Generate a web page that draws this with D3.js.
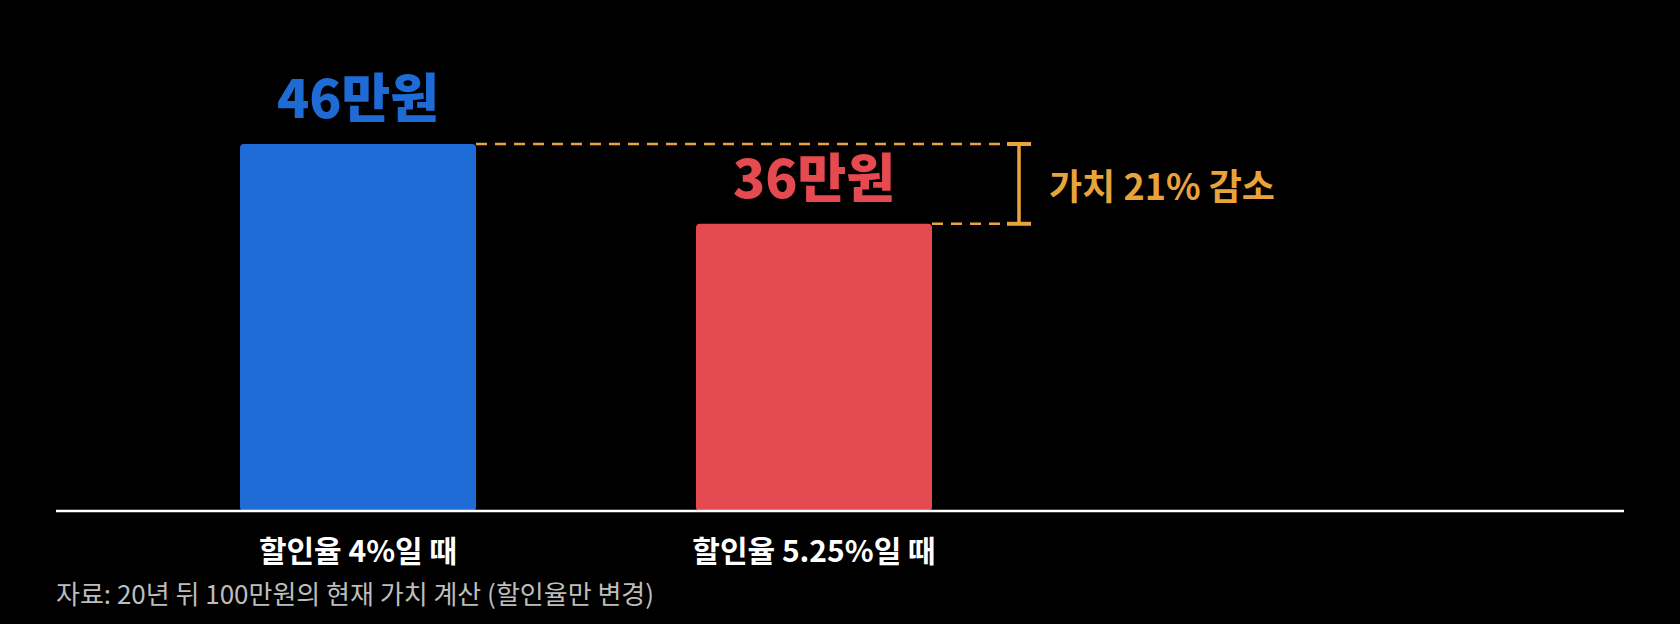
<!DOCTYPE html>
<html>
<head>
<meta charset="utf-8">
<script src="https://cdn.jsdelivr.net/npm/d3@7"></script>
<style>
  html, body { margin: 0; padding: 0; background: #000; }
  svg { display: block; }
  text { font-family: "Noto Sans CJK KR", "Noto Sans", sans-serif; }
</style>
</head>
<body>
<div id="chart"></div>
<script>
//chart data
var categories = ["할인율 4%일 때", "할인율 5.25%일 때"];
var values = [46, 36];
var valueLabels = ["46만원", "36만원"];
var barColors = ["#1f6bd6", "#e54a50"];
var changeLabel = "가치 21% 감소";
var sourceNote = "자료: 20년 뒤 100만원의 현재 가치 계산 (할인율만 변경)";

//svg size and where the plot sits
var svgWidth = 1680;
var svgHeight = 624;
var baseY = 511;
var axisLeft = 56, axisRight = 1624;
var accent = "#e8a33a";

var svg = d3.select("#chart").append("svg")
    .attr("width", svgWidth)
    .attr("height", svgHeight);

svg.append("rect")
    .attr("width", svgWidth)
    .attr("height", svgHeight)
    .attr("fill", "#000");

//band scale for the two bars
var xScale = d3.scaleBand()
    .domain(categories)
    .range([axisLeft, 1116])
    .paddingInner(0.4825)
    .paddingOuter(0.4035);

//linear scale for value, top of tallest bar at y=144
var yScale = d3.scaleLinear()
    .domain([0, d3.max(values)])
    .range([baseY, 144]);

var barData = categories.map(function(c, i) {
    return {cat: c, value: values[i], label: valueLabels[i], color: barColors[i]};
});

//bars
svg.selectAll("rect.bar")
    .data(barData)
    .enter().append("rect")
    .attr("class", "bar")
    .attr("x", d => xScale(d.cat))
    .attr("y", d => yScale(d.value))
    .attr("width", xScale.bandwidth())
    .attr("height", d => baseY - yScale(d.value))
    .attr("rx", 4)
    .attr("fill", d => d.color);

//baseline
svg.append("line")
    .attr("x1", axisLeft)
    .attr("x2", axisRight)
    .attr("y1", baseY)
    .attr("y2", baseY)
    .attr("stroke", "#fff")
    .attr("stroke-width", 2.5);

//value labels above bars
svg.selectAll("text.valueLabel")
    .data(barData)
    .enter().append("text")
    .attr("class", "valueLabel")
    .attr("x", d => xScale(d.cat) + xScale.bandwidth() / 2)
    .attr("y", d => yScale(d.value) - 26)
    .attr("text-anchor", "middle")
    .attr("font-size", 53)
    .attr("font-weight", 900)
    .attr("fill", d => d.color)
    .text(d => d.label);

//category labels under the axis
svg.selectAll("text.catLabel")
    .data(barData)
    .enter().append("text")
    .attr("class", "catLabel")
    .attr("x", d => xScale(d.cat) + xScale.bandwidth() / 2)
    .attr("y", 562)
    .attr("text-anchor", "middle")
    .attr("font-size", 30)
    .attr("font-weight", 700)
    .attr("fill", "#fff")
    .text(d => d.cat);

//dashed guide lines from each bar top to the bracket
var bracketX = xScale(categories[1]) + xScale.bandwidth() + 87;
var capHalf = 12;
var guides = svg.append("g").attr("class", "guides");
barData.forEach(function(d) {
    guides.append("line")
        .attr("x1", xScale(d.cat) + xScale.bandwidth())
        .attr("x2", bracketX - capHalf)
        .attr("y1", yScale(d.value))
        .attr("y2", yScale(d.value))
        .attr("stroke", accent)
        .attr("stroke-width", 2.5)
        .attr("stroke-dasharray", "11,8");
});

//bracket
var yTop = yScale(values[0]), yBot = yScale(values[1]);
var bracket = svg.append("g").attr("stroke", accent).attr("stroke-width", 4);
bracket.append("line")
    .attr("x1", bracketX).attr("x2", bracketX)
    .attr("y1", yTop).attr("y2", yBot)
    .attr("stroke-width", 3.5);
[yTop, yBot].forEach(function(y) {
    bracket.append("line")
        .attr("x1", bracketX - capHalf).attr("x2", bracketX + capHalf)
        .attr("y1", y).attr("y2", y);
});

//change label next to bracket
svg.append("text")
    .attr("x", bracketX + 30)
    .attr("y", (yTop + yBot) / 2)
    .attr("dominant-baseline", "central")
    .attr("font-size", 36)
    .attr("font-weight", 700)
    .attr("fill", accent)
    .text(changeLabel);

//source note
svg.append("text")
    .attr("x", axisLeft)
    .attr("y", 604)
    .attr("font-size", 26)
    .attr("fill", "#bdbdbd")
    .text(sourceNote);
</script>
</body>
</html>
